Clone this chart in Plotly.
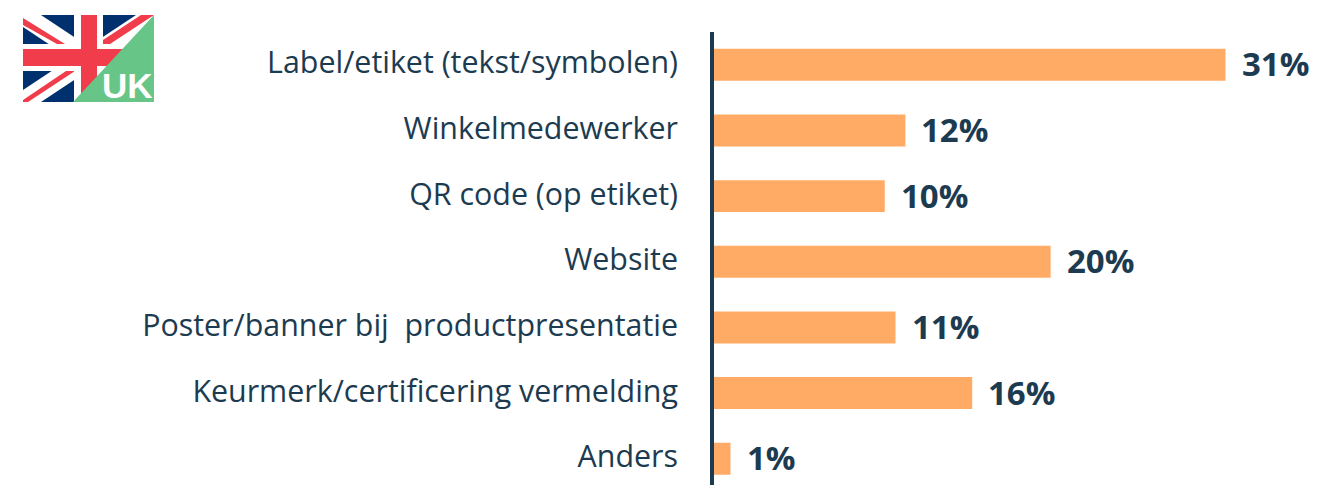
import plotly.graph_objects as go

categories = ["Label/etiket (tekst/symbolen)", "Winkelmedewerker", "QR code (op etiket)", "Website",
              "Poster/banner bij  productpresentatie", "Keurmerk/certificering vermelding", "Anders"]
values = [31, 11.6, 10.35, 20.4, 11, 15.65, 1]
labels = ["31%", "12%", "10%", "20%", "11%", "16%", "1%"]

INK = "#1d3b50"
W, H = 1320, 485
FONT = "Open Sans"

fig = go.Figure()
fig.add_bar(y=categories, x=values, orientation="h", marker=dict(color="#ffab66", line_width=0),
            width=0.487, hoverinfo="skip", showlegend=False)
fig.add_scatter(x=[0, W], y=[0, H], xaxis="x2", yaxis="y2", mode="markers", marker_opacity=0,
                hoverinfo="skip", showlegend=False)

annotations = [dict(x=v, y=c, xref="x", yref="y", text=t, showarrow=False, xanchor="left", yanchor="middle",
                    xshift=14, yshift=1, font=dict(family=FONT, size=33, color=INK, weight=700))
               for c, v, t in zip(categories, values, labels)]
annotations.append(dict(x=127.5, y=85.5, xref="x2", yref="y2", text="UK", showarrow=False,
                        font=dict(family="Liberation Sans", size=35, color="white", weight=700)))

def poly(pts, color):
    path = "M " + " L ".join(f"{x},{y}" for x, y in pts) + " Z"
    return dict(type="path", xref="x2", yref="y2", path=path, fillcolor=color, line_width=0)

BLUE, RED, GREEN = "#00306e", "#f03c4b", "#66c587"
shapes = [
    poly([(23, 15), (154, 15), (154, 102), (23, 102)], BLUE),
    poly([(23, 15), (41, 15), (154, 90), (154, 102), (136, 102), (23, 27)], "white"),
    poly([(154, 15), (136, 15), (23, 90), (23, 102), (41, 102), (154, 27)], "white"),
    poly([(23, 18), (65, 44), (57, 44), (23, 25)], RED),
    poly([(103, 40), (141, 15), (154, 15), (110, 44), (103, 44)], RED),
    poly([(23, 100), (66, 71), (75, 71), (28, 102), (23, 102)], RED),
    poly([(74, 15), (103, 15), (103, 102), (74, 102)], "white"),
    poly([(23, 44), (154, 44), (154, 71), (23, 71)], "white"),
    poly([(81, 15), (97, 15), (97, 102), (81, 102)], RED),
    poly([(23, 49), (154, 49), (154, 66), (23, 66)], RED),
    poly([(154, 15), (154, 102), (73, 102)], GREEN),
]

fig.update_layout(
    width=W, height=H, margin=dict(l=0, r=0, t=0, b=0), paper_bgcolor="white", plot_bgcolor="rgba(0,0,0,0)",
    showlegend=False, annotations=annotations, shapes=shapes, bargap=0.5,
    xaxis=dict(domain=[714 / W, 1], range=[0, (W - 714) / 16.5], visible=False, fixedrange=True),
    yaxis=dict(domain=[0, 1 - 32 / H], range=[6.4, -0.5], type="category", anchor="x",
               categoryorder="array", categoryarray=categories, showline=False, showgrid=False, zeroline=False,
               ticks="", ticklabelstandoff=35, ticklabelshift=2,
               tickfont=dict(family=FONT, size=30.4, color=INK), fixedrange=True),
    xaxis2=dict(domain=[0, 1], range=[0, W], visible=False, anchor="y2", fixedrange=True),
    yaxis2=dict(domain=[0, 1], range=[H, 0], visible=False, anchor="x2", fixedrange=True),
)
fig.add_shape(type="line", xref="x2", yref="y2", x0=712, x1=712, y0=32, y1=H, line=dict(color=INK, width=4))

fig.write_html("out.html", config=dict(displayModeBar=False),
               post_script="document.body.style.margin='0';document.body.style.overflow='hidden';")
